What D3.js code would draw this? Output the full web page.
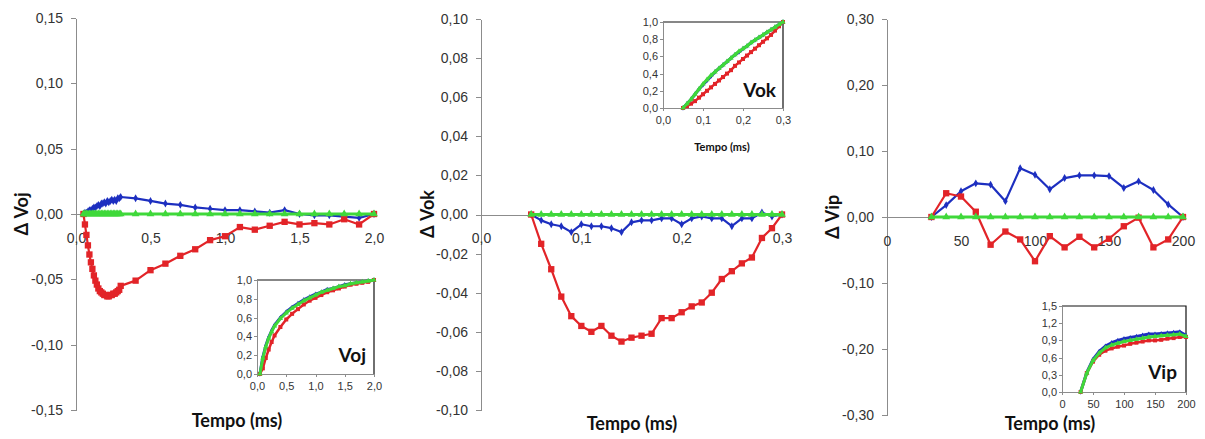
<!DOCTYPE html>
<html>
<head>
<meta charset="utf-8">
<script src="https://cdn.jsdelivr.net/npm/d3@7"></script>
<style>
  body { margin: 0; background: #fff; }
  svg { display: block; font-family: Lato, 'Liberation Sans', sans-serif; }
  .axis path, .axis line { stroke: #8c8c8c; shape-rendering: crispEdges; }
  .axis text { fill: #333; font-size: 14px; }
  .inset .axis text { font-size: 11px; }
  .title { font-weight: bold; fill: #111; }
</style>
</head>
<body>
<svg id="chart" width="1205" height="439"></svg>
<script>
// ---- data: Voj (left panel) ----
const vojX = [0.05, 0.06, 0.07, 0.08, 0.09, 0.10, 0.11, 0.12, 0.13, 0.14, 0.15, 0.16, 0.17, 0.18, 0.19, 0.20,
  0.21, 0.22, 0.23, 0.24, 0.25, 0.26, 0.27, 0.28, 0.29, 0.30,
  0.4, 0.5, 0.6, 0.7, 0.8, 0.9, 1.0, 1.1, 1.2, 1.3, 1.4, 1.5, 1.6, 1.7, 1.8, 1.9, 2.0];
const vojBlue = [0, 0.001, 0.001, 0.002, 0.003, 0.003, 0.004, 0.005, 0.005, 0.006, 0.007, 0.006, 0.008, 0.008, 0.009, 0.008,
  0.010, 0.009, 0.010, 0.011, 0.010, 0.011, 0.010, 0.012, 0.012, 0.013,
  0.012, 0.010, 0.008, 0.007, 0.005, 0.004, 0.003, 0.003, 0.002, 0.001, 0.003, 0.000, -0.001, -0.001, -0.002, -0.003, 0];
const vojRed = [0, -0.008, -0.016, -0.024, -0.031, -0.037, -0.042, -0.047, -0.051, -0.054, -0.057, -0.059, -0.060, -0.061, -0.062, -0.062,
  -0.063, -0.063, -0.062, -0.062, -0.061, -0.061, -0.060, -0.059, -0.058, -0.055,
  -0.051, -0.043, -0.038, -0.032, -0.027, -0.020, -0.017, -0.010, -0.012, -0.009, -0.006, -0.008, -0.007, -0.008, -0.004, -0.008, 0];
const vojGreen = [0, 0, 0, 0, 0, 0, 0, 0, 0, 0, 0, 0, 0, 0, 0, 0, 0, 0, 0, 0, 0, 0, 0, 0, 0, 0,
  0, 0, 0, 0, 0, 0, 0, 0, 0, 0, 0, 0, 0, 0, 0, 0, 0];
const vojXTicks = [0, 0.5, 1.0, 1.5, 2.0];
const vojYTicks = [-0.15, -0.10, -0.05, 0, 0.05, 0.10, 0.15];

// Voj inset (normalised curves)
const vojInX = [0.05, 0.1, 0.15, 0.2, 0.25, 0.3, 0.4, 0.5, 0.6, 0.7, 0.8, 0.9, 1.0, 1.1, 1.2, 1.3, 1.4, 1.5, 1.6, 1.7, 1.8, 1.9, 2.0];
const vojInBlue = [0, 0.18, 0.30, 0.39, 0.46, 0.52, 0.60, 0.66, 0.71, 0.75, 0.79, 0.82, 0.85, 0.87, 0.90, 0.91, 0.93, 0.95, 0.96, 0.97, 0.98, 0.99, 1.0];
const vojInRed = [0, 0.06, 0.17, 0.26, 0.34, 0.41, 0.50, 0.58, 0.64, 0.69, 0.74, 0.78, 0.81, 0.84, 0.87, 0.89, 0.91, 0.93, 0.95, 0.96, 0.97, 0.98, 1.0];
const vojInGreen = [0, 0.17, 0.29, 0.38, 0.45, 0.51, 0.59, 0.65, 0.70, 0.74, 0.78, 0.81, 0.84, 0.87, 0.89, 0.91, 0.93, 0.94, 0.96, 0.97, 0.98, 0.99, 1.0];
const unitYTicks = [0, 0.2, 0.4, 0.6, 0.8, 1.0];

// ---- data: Vok (middle panel) ----
const vokX = [0.05, 0.06, 0.07, 0.08, 0.09, 0.10, 0.11, 0.12, 0.13, 0.14, 0.15, 0.16, 0.17, 0.18, 0.19, 0.20,
  0.21, 0.22, 0.23, 0.24, 0.25, 0.26, 0.27, 0.28, 0.29, 0.30];
const vokBlue = [0, -0.003, -0.005, -0.006, -0.009, -0.005, -0.006, -0.006, -0.007, -0.009, -0.004, -0.003, -0.003, -0.002, -0.002, -0.005,
  -0.002, -0.001, -0.002, -0.002, -0.006, -0.002, -0.002, 0.001, -0.001, 0];
const vokRed = [0, -0.015, -0.028, -0.042, -0.052, -0.057, -0.060, -0.057, -0.062, -0.065, -0.063, -0.062, -0.061, -0.053, -0.053, -0.050,
  -0.047, -0.045, -0.040, -0.033, -0.029, -0.025, -0.022, -0.012, -0.007, 0];
const vokGreen = [0, 0, 0, 0, 0, 0, 0, 0, 0, 0, 0, 0, 0, 0, 0, 0, 0, 0, 0, 0, 0, 0, 0, 0, 0, 0];
const vokXTicks = [0, 0.1, 0.2, 0.3];
const vokYTicks = [-0.10, -0.08, -0.06, -0.04, -0.02, 0, 0.02, 0.04, 0.06, 0.08, 0.10];

const vokInBlue = [0, 0.05, 0.10, 0.16, 0.22, 0.27, 0.32, 0.37, 0.42, 0.46, 0.50, 0.54, 0.58, 0.62, 0.65, 0.69,
  0.72, 0.76, 0.79, 0.82, 0.85, 0.88, 0.91, 0.94, 0.97, 1.0];
const vokInRed = [0, 0.02, 0.05, 0.08, 0.12, 0.16, 0.20, 0.24, 0.28, 0.32, 0.36, 0.40, 0.44, 0.49, 0.53, 0.57,
  0.61, 0.65, 0.69, 0.73, 0.77, 0.81, 0.85, 0.90, 0.95, 1.0];
const vokInGreen = [0, 0.05, 0.10, 0.16, 0.22, 0.28, 0.33, 0.38, 0.42, 0.46, 0.50, 0.54, 0.58, 0.62, 0.66, 0.69,
  0.72, 0.76, 0.79, 0.82, 0.85, 0.88, 0.91, 0.94, 0.97, 1.0];

// ---- data: Vip (right panel) ----
const vipX = [30, 40, 50, 60, 70, 80, 90, 100, 110, 120, 130, 140, 150, 160, 170, 180, 190, 200];
const vipBlue = [0, 0.018, 0.039, 0.051, 0.049, 0.024, 0.074, 0.064, 0.042, 0.059, 0.063, 0.063, 0.062, 0.044, 0.054, 0.041, 0.019, 0];
const vipRed = [0, 0.036, 0.031, 0.008, -0.042, -0.022, -0.034, -0.067, -0.029, -0.046, -0.030, -0.046, -0.033, -0.014, -0.001, -0.046, -0.034, 0];
const vipGreen = [0, 0, 0, 0, 0, 0, 0, 0, 0, 0, 0, 0, 0, 0, 0, 0, 0, 0];
const vipXTicks = [0, 50, 100, 150, 200];
const vipYTicks = [-0.30, -0.20, -0.10, 0, 0.10, 0.20, 0.30];

const vipInBlue = [0, 0.34, 0.57, 0.71, 0.80, 0.86, 0.90, 0.93, 0.95, 0.97, 0.99, 1.01, 1.01, 1.02, 1.03, 1.04, 1.05, 0.99];
const vipInRed = [0, 0.33, 0.53, 0.65, 0.72, 0.76, 0.79, 0.81, 0.84, 0.86, 0.88, 0.90, 0.90, 0.91, 0.93, 0.94, 0.96, 0.96];
const vipInGreen = [0, 0.33, 0.55, 0.68, 0.77, 0.82, 0.85, 0.88, 0.90, 0.92, 0.94, 0.96, 0.97, 0.98, 0.99, 1.00, 1.01, 0.97];
const vipInYTicks = [0, 0.3, 0.6, 0.9, 1.2, 1.5];

const colors = { blue: '#1d2fc0', red: '#e22428', green: '#3fd83a' };
const pt = d3.formatLocale({ decimal: ',', thousands: '.', grouping: [3], currency: ['', ''], minus: '-' });

const svg = d3.select('#chart');

function drawSeries(g, xs, ys, x, y, color, symbol, size, width) {
  const pts = xs.map((d, i) => [d, ys[i]]);
  g.append('path')
    .datum(pts)
    .attr('fill', 'none')
    .attr('stroke', color)
    .attr('stroke-width', width)
    .attr('stroke-linejoin', 'round')
    .attr('d', d3.line().x(d => x(d[0])).y(d => y(d[1])));
  g.selectAll(null)
    .data(pts)
    .join('path')
    .attr('transform', d => `translate(${x(d[0])},${y(d[1])})`)
    .attr('d', d3.symbol(symbol, size))
    .attr('fill', color);
}

function drawInset(c) {
  const g = svg.append('g').attr('class', 'inset');
  const x = d3.scaleLinear().domain(c.xDomain).range(c.xRange);
  const y = d3.scaleLinear().domain(c.yDomain).range(c.yRange);

  g.append('rect')
    .attr('x', c.xRange[0]).attr('y', c.yRange[1])
    .attr('width', c.xRange[1] - c.xRange[0])
    .attr('height', c.yRange[0] - c.yRange[1])
    .attr('fill', '#fff');

  g.append('g').attr('class', 'axis')
    .attr('transform', `translate(0,${c.yRange[0]})`)
    .call(d3.axisBottom(x).tickValues(c.xTicks).tickFormat(c.xFmt).tickSize(3).tickSizeOuter(0).tickPadding(5));
  g.append('g').attr('class', 'axis')
    .attr('transform', `translate(${c.xRange[0]},0)`)
    .call(d3.axisLeft(y).tickValues(c.yTicks).tickFormat(c.yFmt).tickSize(3).tickSizeOuter(0).tickPadding(2));

  // top and right frame
  g.append('path')
    .attr('d', `M${c.xRange[0]},${c.yRange[1]}H${c.xRange[1]}V${c.yRange[0]}`)
    .attr('fill', 'none').attr('stroke', '#111').attr('stroke-width', 1.2);

  drawSeries(g, c.x, c.blue, x, y, colors.blue, d3.symbolDiamond, 8, 3);
  drawSeries(g, c.x, c.red, x, y, colors.red, d3.symbolSquare, 16, 2.5);
  drawSeries(g, c.x, c.green, x, y, colors.green, d3.symbolTriangle, 12, 3);

  g.append('text').attr('class', 'title')
    .attr('x', c.label[1]).attr('y', c.label[2])
    .attr('text-anchor', 'end')
    .attr('font-size', 19)
    .text(c.label[0]);

  if (c.xTitle) {
    g.append('text').attr('class', 'title')
      .attr('x', c.xTitle[1]).attr('y', c.xTitle[2])
      .attr('text-anchor', 'middle')
      .attr('font-size', 11)
      .text(c.xTitle[0]);
  }
}

function drawPanel(p) {
  const g = svg.append('g');
  const x = d3.scaleLinear().domain(p.xDomain).range(p.xRange);
  const y = d3.scaleLinear().domain(p.yDomain).range(p.yRange);

  g.append('g').attr('class', 'axis')
    .attr('transform', `translate(${p.xRange[0]},0)`)
    .call(d3.axisLeft(y).tickValues(p.yTicks).tickFormat(p.yFmt).tickSize(5).tickSizeOuter(0).tickPadding(8));

  g.append('g').attr('class', 'axis')
    .attr('transform', `translate(0,${y(0)})`)
    .call(d3.axisBottom(x).tickValues(p.xTicks).tickFormat(p.xFmt).tickSize(0).tickSizeOuter(0).tickPadding(19));

  drawSeries(g, p.x, p.blue, x, y, colors.blue, d3.symbolDiamond, 18, 2.2);
  drawSeries(g, p.x, p.red, x, y, colors.red, d3.symbolSquare, 40, 2.2);
  drawSeries(g, p.x, p.green, x, y, colors.green, d3.symbolTriangle, 26, 2.8);

  g.append('text').attr('class', 'title')
    .attr('transform', `translate(${p.yTitlePos[0]},${p.yTitlePos[1]}) rotate(-90)`)
    .attr('text-anchor', 'middle')
    .attr('dy', '0.35em')
    .attr('font-size', 18)
    .text(p.yTitle);

  g.append('text').attr('class', 'title')
    .attr('x', p.xTitlePos[0]).attr('y', p.xTitlePos[1])
    .attr('text-anchor', 'middle')
    .attr('dy', '0.35em')
    .attr('font-size', 18)
    .text('Tempo (ms)');

  drawInset(p.inset);
}

const f1 = pt.format('.1f');
const f2 = pt.format('.2f');
const fd = pt.format('d');

drawPanel({
  x: vojX, blue: vojBlue, red: vojRed, green: vojGreen,
  xDomain: [0, 2], xRange: [76, 374], yDomain: [-0.15, 0.15], yRange: [410, 18],
  xTicks: vojXTicks, yTicks: vojYTicks, xFmt: f1, yFmt: f2,
  yTitle: 'Δ Voj', yTitlePos: [22, 214], xTitlePos: [237, 421],
  inset: {
    x: vojInX, blue: vojInBlue, red: vojInRed, green: vojInGreen,
    xDomain: [0, 2], xRange: [257, 374], yDomain: [0, 1], yRange: [374, 280],
    xTicks: vojXTicks, yTicks: unitYTicks, xFmt: f1, yFmt: f1,
    label: ['Voj', 366, 362]
  }
});

drawPanel({
  x: vokX, blue: vokBlue, red: vokRed, green: vokGreen,
  xDomain: [0, 0.3], xRange: [481, 782], yDomain: [-0.1, 0.1], yRange: [410, 19],
  xTicks: vokXTicks, yTicks: vokYTicks, xFmt: f1, yFmt: f2,
  yTitle: 'Δ Vok', yTitlePos: [428, 214], xTitlePos: [632, 424],
  inset: {
    x: vokX, blue: vokInBlue, red: vokInRed, green: vokInGreen,
    xDomain: [0, 0.3], xRange: [663, 783], yDomain: [0, 1], yRange: [108, 22],
    xTicks: vokXTicks, yTicks: unitYTicks, xFmt: f1, yFmt: f1,
    label: ['Vok', 776, 97],
    xTitle: ['Tempo (ms)', 722, 151]
  }
});

drawPanel({
  x: vipX, blue: vipBlue, red: vipRed, green: vipGreen,
  xDomain: [0, 200], xRange: [887, 1183], yDomain: [-0.3, 0.3], yRange: [415, 19],
  xTicks: vipXTicks, yTicks: vipYTicks, xFmt: fd, yFmt: f2,
  yTitle: 'Δ Vip', yTitlePos: [833, 217], xTitlePos: [1050, 424],
  inset: {
    x: vipX, blue: vipInBlue, red: vipInRed, green: vipInGreen,
    xDomain: [0, 200], xRange: [1062, 1186], yDomain: [0, 1.5], yRange: [392, 306],
    xTicks: vipXTicks, yTicks: vipInYTicks, xFmt: fd, yFmt: f1,
    label: ['Vip', 1177, 379]
  }
});
</script>
</body>
</html>
